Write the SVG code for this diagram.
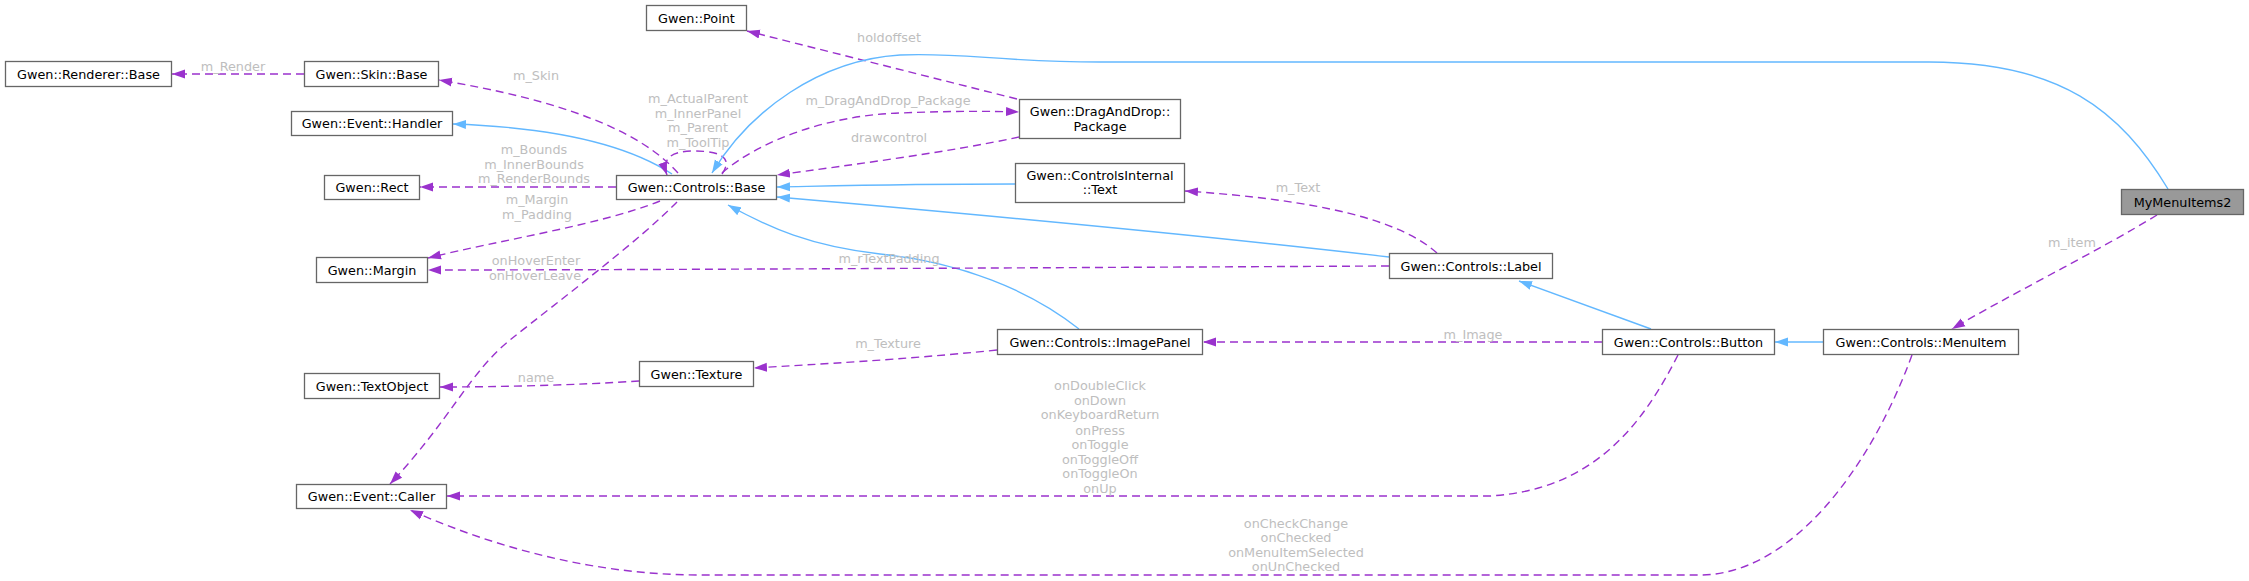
<svg xmlns="http://www.w3.org/2000/svg" width="2249" height="581" viewBox="0 0 2249 581">
<style>
.node rect{fill:#ffffff;stroke:#666666;stroke-width:1.3}
.node.main rect{fill:#999999}
.node text{font-family:"DejaVu Sans",sans-serif;font-size:12.8px;fill:#000000;text-anchor:middle}
.use{fill:none;stroke:#9a32cd;stroke-width:1.4;stroke-dasharray:8,5;marker-end:url(#ap)}
.inh{fill:none;stroke:#63b8ff;stroke-width:1.4;marker-end:url(#ab)}
.lbl{font-family:"DejaVu Sans",sans-serif;font-size:12.8px;fill:#bebebe;text-anchor:middle}
</style>
<defs>
<marker id="ap" markerUnits="userSpaceOnUse" markerWidth="14" markerHeight="10" viewBox="0 0 14 10" refX="13" refY="5" orient="auto"><path d="M0,0.5 L13,5 L0,9.5 z" fill="#9a32cd"/></marker>
<marker id="ab" markerUnits="userSpaceOnUse" markerWidth="14" markerHeight="10" viewBox="0 0 14 10" refX="13" refY="5" orient="auto"><path d="M0,0.5 L13,5 L0,9.5 z" fill="#63b8ff"/></marker>
</defs>
<rect width="2249" height="581" fill="#ffffff"/>
<g id="edges">
<path class="use" d="M304,74 L172,74"/>
<text class="lbl" x="233" y="70.5">m_Render</text>
<path class="use" d="M678,173 C640,130 560,100 439,80"/>
<text class="lbl" x="536" y="79.5">m_Skin</text>
<path class="inh" d="M672,174 C620,140 540,127 453,124"/>
<path class="use" d="M616,187 L420,187"/>
<text class="lbl" x="534" y="153.5">m_Bounds</text>
<text class="lbl" x="534" y="168.5">m_InnerBounds</text>
<text class="lbl" x="534" y="183">m_RenderBounds</text>
<path class="use" d="M660,201 C600,225 500,240 428,258"/>
<text class="lbl" x="537" y="203.5">m_Margin</text>
<text class="lbl" x="537" y="218.5">m_Padding</text>
<path class="use" d="M722,174 C732,160 725,151 694,151 C672,151 661,158 667,175"/>
<text class="lbl" x="698" y="102.5">m_ActualParent</text>
<text class="lbl" x="698" y="117.5">m_InnerPanel</text>
<text class="lbl" x="698" y="132">m_Parent</text>
<text class="lbl" x="698" y="146.5">m_ToolTip</text>
<path class="use" d="M722,173 C760,140 830,115 900,113 C950,111 990,111 1019,112"/>
<text class="lbl" x="888" y="104.5">m_DragAndDrop_Package</text>
<path class="use" d="M1019,137 C950,152 850,165 777,175"/>
<text class="lbl" x="889" y="141.5">drawcontrol</text>
<path class="use" d="M1017,99 L747,31"/>
<text class="lbl" x="889" y="41.5">holdoffset</text>
<path class="inh" d="M1015,184 C900,184 830,186 777,187"/>
<path class="use" d="M1437,253 C1400,220 1320,200 1185,191"/>
<text class="lbl" x="1298" y="191.5">m_Text</text>
<path class="inh" d="M1389,257 C1200,235 950,212 777,197"/>
<path class="inh" d="M1079,329 C1030,290 960,262 880,254 C810,246 770,228 728,205"/>
<path class="use" d="M1389,266 C1000,268 600,270 428,270"/>
<text class="lbl" x="889" y="262.5">m_rTextPadding</text>
<path class="use" d="M677,202 C640,240 560,300 510,340 C470,372 450,420 390,484"/>
<text class="lbl" x="536" y="264.5">onHoverEnter</text>
<text class="lbl" x="535" y="279.5">onHoverLeave</text>
<path class="use" d="M639,381 C580,385 500,387 440,387"/>
<text class="lbl" x="536" y="381.5">name</text>
<path class="use" d="M997,350 C900,360 820,364 754,368"/>
<text class="lbl" x="888" y="347.5">m_Texture</text>
<path class="use" d="M1602,342 L1203,342"/>
<text class="lbl" x="1473" y="338.5">m_Image</text>
<path class="inh" d="M1651,329 L1519,281"/>
<path class="use" d="M1678,355 C1640,430 1590,490 1490,496 L447,496"/>
<text class="lbl" x="1100" y="390">onDoubleClick</text>
<text class="lbl" x="1100" y="405">onDown</text>
<text class="lbl" x="1100" y="419">onKeyboardReturn</text>
<text class="lbl" x="1100" y="434.5">onPress</text>
<text class="lbl" x="1100" y="449">onToggle</text>
<text class="lbl" x="1100" y="463.5">onToggleOff</text>
<text class="lbl" x="1100" y="478">onToggleOn</text>
<text class="lbl" x="1100" y="493">onUp</text>
<path class="inh" d="M1823,342 L1775,342"/>
<path class="use" d="M2157,215 C2100,250 2000,300 1952,329"/>
<text class="lbl" x="2072" y="246.5">m_item</text>
<path class="inh" d="M2168,189 C2120,110 2060,62 1929,62 L1100,62 C1000,62 960,52 900,55 C820,60 750,110 712,173"/>
<path class="use" d="M1912,355 C1870,470 1790,575 1700,575 L700,575 C600,575 500,550 410,510"/>
<text class="lbl" x="1296" y="527.5">onCheckChange</text>
<text class="lbl" x="1296" y="542">onChecked</text>
<text class="lbl" x="1296" y="556.5">onMenuItemSelected</text>
<text class="lbl" x="1296" y="571">onUnChecked</text>
</g>
<g id="node-renderer-base" class="node"><rect x="5.5" y="61.5" width="166" height="25"/><text x="88.5" y="78.5">Gwen::Renderer::Base</text></g>
<g id="node-skin-base" class="node"><rect x="304.5" y="61.5" width="134" height="25"/><text x="371.5" y="78.5">Gwen::Skin::Base</text></g>
<g id="node-event-handler" class="node"><rect x="291.5" y="111.5" width="161" height="24"/><text x="372" y="128">Gwen::Event::Handler</text></g>
<g id="node-rect" class="node"><rect x="324.5" y="175.5" width="95" height="24"/><text x="372" y="192">Gwen::Rect</text></g>
<g id="node-margin" class="node"><rect x="316.5" y="257.5" width="111" height="25"/><text x="372" y="274.5">Gwen::Margin</text></g>
<g id="node-point" class="node"><rect x="646.5" y="5.5" width="100" height="25"/><text x="696.5" y="22.5">Gwen::Point</text></g>
<g id="node-controls-base" class="node"><rect x="616.5" y="175.5" width="160" height="24"/><text x="696.5" y="192">Gwen::Controls::Base</text></g>
<g id="node-package" class="node"><rect x="1019.5" y="99.5" width="161" height="39"/><text x="1100" y="115.5">Gwen::DragAndDrop::</text><text x="1100" y="130.5">Package</text></g>
<g id="node-internal-text" class="node"><rect x="1015.5" y="163.5" width="169" height="39"/><text x="1100" y="179.5">Gwen::ControlsInternal</text><text x="1100" y="194">::Text</text></g>
<g id="node-imagepanel" class="node"><rect x="997.5" y="329.5" width="205" height="25"/><text x="1100" y="346.5">Gwen::Controls::ImagePanel</text></g>
<g id="node-label" class="node"><rect x="1389.5" y="253.5" width="163" height="25"/><text x="1471" y="270.5">Gwen::Controls::Label</text></g>
<g id="node-button" class="node"><rect x="1602.5" y="329.5" width="172" height="25"/><text x="1688.5" y="346.5">Gwen::Controls::Button</text></g>
<g id="node-menuitem" class="node"><rect x="1823.5" y="329.5" width="195" height="25"/><text x="1921" y="346.5">Gwen::Controls::MenuItem</text></g>
<g id="node-mymenuitems2" class="node main"><rect x="2121.5" y="189.5" width="122" height="25"/><text x="2182.5" y="206.5">MyMenuItems2</text></g>
<g id="node-textobject" class="node"><rect x="304.5" y="373.5" width="135" height="25"/><text x="372" y="390.5">Gwen::TextObject</text></g>
<g id="node-texture" class="node"><rect x="639.5" y="361.5" width="114" height="25"/><text x="696.5" y="378.5">Gwen::Texture</text></g>
<g id="node-event-caller" class="node"><rect x="296.5" y="484.5" width="150" height="24"/><text x="371.5" y="501">Gwen::Event::Caller</text></g>
</svg>
